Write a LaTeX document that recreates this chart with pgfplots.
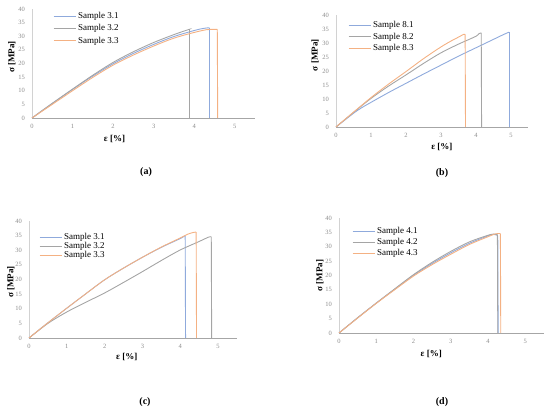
\documentclass[border=0pt]{standalone}
\usepackage{pgfplots}
\pgfplotsset{compat=1.18}
\usepackage{fontspec}
\setmainfont{Liberation Serif}
\definecolor{cBlue}{HTML}{8FAADC}
\definecolor{cGray}{HTML}{A5A5A5}
\definecolor{cOrange}{HTML}{F4B183}
\pgfplotsset{
  legend image code/.code={\draw[#1, line width=0.9pt] (0pt,0pt) -- (22pt,0pt);},
}
\pgfplotsset{
  panel/.style={
    scale only axis, anchor=south west,
    xmin=0, xmax=5.5, ymin=0, ymax=40,
    axis x line*=bottom, axis y line*=left,
    x axis line style={draw=gray!70, -, line width=0.6pt},
    y axis line style={draw=gray!35, -, line width=0.6pt},
    xtick={0,1,2,3,4,5}, ytick={0,5,...,40},
    major tick length=0pt,
    /pgf/number format/assume math mode=true,
    tick label style={font=\fontsize{6.5}{7}\selectfont, text=gray!90},
    xticklabel style={yshift=-3pt},
    yticklabel style={xshift=-3.5pt},
    xlabel={\textbf{ε [\%]}}, ylabel={\textbf{σ [MPa]}},
    label style={font=\fontsize{9}{10}\selectfont},
    legend cell align=left,
    legend style={draw=none, fill=none, inner sep=0pt, anchor=north west,
      column sep=2pt,
      nodes={inner sep=0pt, text height=6.5pt, text depth=2pt, font=\fontsize{9}{10}\selectfont}},
    every axis plot/.append style={line width=0.9pt},
    clip=false,
  },
}
\begin{document}
\begin{tikzpicture}[x=1pt,y=1pt]
\path[use as bounding box] (0,0) rectangle (550,410);

% (a)
\begin{axis}[panel, at={(32pt,292pt)}, width=223pt, height=109pt,
  xlabel style={at={(axis description cs:0.37,-0.193)}, anchor=center},
  ylabel style={at={(axis description cs:-0.090,0.56)}, anchor=center},
  legend style={at={(0.094,0.975)}, row sep=3.8pt}]
\addplot[color=cBlue, smooth] coordinates {(0,0)(0.25,2.7)(0.5,5.3)(1,10.5)(1.5,15.4)(2,19.9)(2.5,23.7)(3,27.0)(3.5,29.9)(4,32.1)(4.2,32.8)(4.35,33.1)(4.38,33.0)};
\addplot[color=cBlue, forget plot] coordinates {(4.38,33.0)(4.38,0)};
\addplot[color=cGray, smooth] coordinates {(0,0)(0.25,2.7)(0.5,5.4)(1,10.6)(1.5,15.7)(2,20.4)(2.5,24.3)(3,27.7)(3.5,30.6)(3.85,32.4)(3.88,32.5)};
\addplot[color=cGray, forget plot] coordinates {(3.88,32.5)(3.88,0)};
\addplot[color=cOrange, smooth] coordinates {(0,0)(0.25,2.5)(0.5,5.0)(1,10.0)(1.5,14.9)(2,19.4)(2.5,23.1)(3,26.4)(3.5,29.3)(4,31.4)(4.3,32.4)(4.4,32.5)(4.57,32.5)};
\addplot[color=cOrange, forget plot] coordinates {(4.57,32.5)(4.58,0)};
\legend{Sample 3.1, Sample 3.2, Sample 3.3}
\end{axis}

% (b)
\begin{axis}[panel, at={(336pt,283pt)}, width=192.5pt, height=112pt,
  xlabel style={at={(axis description cs:0.55,-0.179)}, anchor=center},
  ylabel style={at={(axis description cs:-0.109,0.64)}, anchor=center},
  legend style={at={(0.062,0.945)}, row sep=2.8pt}]
\addplot[color=cBlue, smooth] coordinates {(0,0)(0.5,4.9)(0.75,7.0)(1,8.8)(1.5,12.3)(2,15.6)(2.5,18.9)(3,22.1)(3.5,25.3)(4,28.3)(4.5,31.3)(4.8,33.1)(4.93,33.8)(4.95,33.8)};
\addplot[color=cBlue, forget plot] coordinates {(4.95,33.8)(4.95,0)};
\addplot[color=cGray, smooth] coordinates {(0,0)(0.5,5.2)(1,10.2)(1.5,14.6)(2,18.6)(2.5,22.7)(3,26.5)(3.5,29.6)(4,32.4)(4.08,33.3)(4.15,33.6)};
\addplot[color=cGray, forget plot] coordinates {(4.15,33.6)(4.16,0)};
\addplot[color=cOrange, smooth] coordinates {(0,0)(0.5,5.3)(1,10.5)(1.5,15.3)(2,19.8)(2.5,24.4)(3,28.6)(3.3,30.8)(3.5,32.1)(3.65,33.1)(3.69,33.1)};
\addplot[color=cOrange, forget plot] coordinates {(3.69,33.1)(3.7,0)};
\legend{Sample 8.1, Sample 8.2, Sample 8.3}
\end{axis}

% (c)
\begin{axis}[panel, at={(29pt,72pt)}, width=208pt, height=117pt,
  xlabel style={at={(axis description cs:0.47,-0.162)}, anchor=center},
  ylabel style={at={(axis description cs:-0.087,0.48)}, anchor=center},
  legend style={at={(0.048,0.896)}, row sep=0.5pt}]
\addplot[color=cBlue, smooth] coordinates {(0,0)(0.5,5.2)(1,10.2)(1.5,15.1)(2,19.9)(2.5,23.9)(3,27.6)(3.5,31.0)(4,34.0)(4.1,34.8)(4.13,34.9)};
\addplot[color=cBlue, forget plot] coordinates {(4.13,34.9)(4.14,0)};
\addplot[color=cGray, smooth] coordinates {(0,0)(0.5,5.0)(1,8.9)(1.5,12.2)(2,15.4)(2.5,19.0)(3,22.7)(3.5,26.5)(4,30.1)(4.5,33.0)(4.75,34.5)(4.82,34.6)};
\addplot[color=cGray, forget plot] coordinates {(4.82,34.6)(4.83,0)};
\addplot[color=cOrange, smooth] coordinates {(0,0)(0.5,5.2)(1,10.2)(1.5,15.1)(2,19.9)(2.5,23.9)(3,27.6)(3.5,31.1)(4,34.2)(4.2,35.5)(4.35,36.1)(4.42,36.2)};
\addplot[color=cOrange, forget plot] coordinates {(4.42,36.2)(4.43,0)};
\legend{Sample 3.1, Sample 3.2, Sample 3.3}
\end{axis}

% (d)
\begin{axis}[panel, at={(339pt,77pt)}, width=205pt, height=115pt,
  xlabel style={at={(axis description cs:0.45,-0.183)}, anchor=center},
  ylabel style={at={(axis description cs:-0.093,0.50)}, anchor=center},
  legend style={at={(0.063,0.92)}, row sep=2.5pt}]
\addplot[color=cBlue, smooth] coordinates {(0,0)(0.5,5.3)(1,10.4)(1.5,15.3)(2,20.1)(2.5,24.2)(3,27.9)(3.5,31.2)(4,33.8)(4.15,34.3)(4.26,33.9)};
\addplot[color=cBlue, forget plot] coordinates {(4.26,33.9)(4.27,0)};
\addplot[color=cGray, smooth] coordinates {(0,0)(0.5,5.3)(1,10.4)(1.5,15.4)(2,20.3)(2.5,24.6)(3,28.4)(3.5,31.7)(4,34.0)(4.15,34.4)(4.25,34.2)};
\addplot[color=cGray, forget plot] coordinates {(4.25,34.2)(4.26,0)};
\addplot[color=cOrange, smooth] coordinates {(0,0)(0.5,5.2)(1,10.3)(1.5,15.1)(2,19.8)(2.5,23.8)(3,27.4)(3.5,30.8)(4,33.5)(4.2,34.5)(4.33,34.6)};
\addplot[color=cOrange, forget plot] coordinates {(4.33,34.6)(4.34,0)};
\legend{Sample 4.1, Sample 4.2, Sample 4.3}
\end{axis}

\node[font=\bfseries\fontsize{10}{12}\selectfont] at (146,238) {(a)};
\node[font=\bfseries\fontsize{10}{12}\selectfont] at (442,237) {(b)};
\node[font=\bfseries\fontsize{10}{12}\selectfont] at (145,8) {(c)};
\node[font=\bfseries\fontsize{10}{12}\selectfont] at (442,8) {(d)};
\end{tikzpicture}
\end{document}
